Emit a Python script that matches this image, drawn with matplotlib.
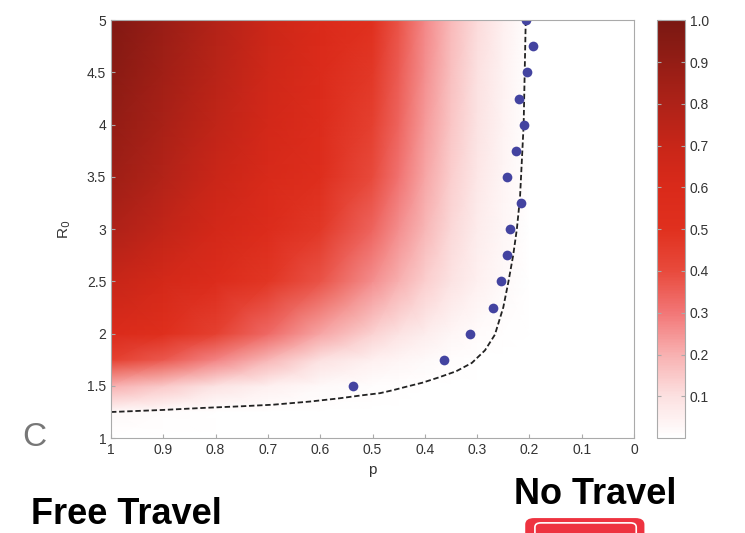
import matplotlib
matplotlib.use("Agg")
import matplotlib.pyplot as plt
import numpy as np
from matplotlib.colors import LinearSegmentedColormap
from matplotlib.patches import FancyBboxPatch

plt.rcParams['font.family'] = ['Liberation Sans', 'DejaVu Sans']

# grid of the shaded field
p_grid = [1.0, 0.9, 0.8, 0.7, 0.6, 0.5, 0.45, 0.4, 0.35, 0.3, 0.25, 0.2, 0.1, 0.0]
r_grid = [1.0, 1.25, 1.5, 1.75, 2.0, 2.5, 3.0, 3.5, 4.0, 4.5, 5.0]
field = [
    [0.00, 0.00, 0.00, 0.00, 0.00, 0.00, 0.00,  0.00, 0.00, 0.00,  0.00,  0, 0, 0],  # R0 = 1
    [0.02, 0.01, 0.00, 0.00, 0.00, 0.00, 0.00,  0.00, 0.00, 0.00,  0.00,  0, 0, 0],  # 1.25
    [0.20, 0.15, 0.09, 0.05, 0.02, 0.01, 0.005, 0.00, 0.00, 0.00,  0.00,  0, 0, 0],  # 1.5
    [0.44, 0.37, 0.28, 0.19, 0.10, 0.05, 0.035, 0.02, 0.01, 0.00,  0.00,  0, 0, 0],  # 1.75
    [0.58, 0.52, 0.44, 0.33, 0.22, 0.13, 0.09,  0.06, 0.03, 0.015, 0.005, 0, 0, 0],  # 2
    [0.70, 0.63, 0.56, 0.48, 0.38, 0.26, 0.20,  0.14, 0.09, 0.05,  0.02,  0, 0, 0],  # 2.5
    [0.80, 0.72, 0.64, 0.56, 0.47, 0.34, 0.26,  0.19, 0.12, 0.065, 0.03,  0, 0, 0],  # 3
    [0.86, 0.78, 0.69, 0.61, 0.53, 0.40, 0.31,  0.22, 0.14, 0.08,  0.035, 0, 0, 0],  # 3.5
    [0.90, 0.82, 0.73, 0.64, 0.56, 0.44, 0.34,  0.24, 0.16, 0.09,  0.04,  0, 0, 0],  # 4
    [0.94, 0.85, 0.76, 0.66, 0.58, 0.47, 0.36,  0.26, 0.17, 0.10,  0.045, 0, 0, 0],  # 4.5
    [0.97, 0.88, 0.78, 0.68, 0.60, 0.50, 0.38,  0.27, 0.18, 0.11,  0.05,  0, 0, 0],  # 5
]

# threshold curve (dashed)
curve_p = [1.0, 0.9, 0.82, 0.75, 0.69, 0.62, 0.565, 0.52, 0.486, 0.46, 0.437, 0.405, 0.374,
           0.34, 0.31, 0.285, 0.266, 0.25, 0.24, 0.231, 0.224, 0.218, 0.214, 0.211, 0.209, 0.207]
curve_r = [1.25, 1.27, 1.29, 1.305, 1.32, 1.35, 1.38, 1.41, 1.43, 1.46, 1.49, 1.53, 1.58,
           1.64, 1.72, 1.84, 1.99, 2.25, 2.5, 2.75, 3.0, 3.3, 3.7, 4.0, 4.5, 5.0]

# simulation points
dot_p = [0.207, 0.193, 0.205, 0.219, 0.210, 0.226, 0.243, 0.217, 0.237, 0.243, 0.255, 0.269, 0.313, 0.364, 0.537]
dot_r = [5.0, 4.75, 4.5, 4.25, 4.0, 3.75, 3.5, 3.25, 3.0, 2.75, 2.5, 2.25, 2.0, 1.75, 1.5]

cb_ticks = [0.1, 0.2, 0.3, 0.4, 0.5, 0.6, 0.7, 0.8, 0.9, 1.0]
cb_labels = ['0.1', '0.2', '0.3', '0.4', '0.5', '0.6', '0.7', '0.8', '0.9', '1.0']

cmap = LinearSegmentedColormap.from_list('wr', [
    (0.0, '#ffffff'), (0.1, '#fce0e0'), (0.2, '#f8b0b0'), (0.3, '#f27676'),
    (0.4, '#e84a3c'), (0.5, '#e0301e'), (0.6, '#da2a1a'), (0.7, '#c82618'),
    (0.8, '#ae2218'), (0.9, '#941d15'), (1.0, '#7a1812')])

fig = plt.figure(figsize=(7.45, 5.33), dpi=100)
ax = fig.add_axes([0.149, 0.178, 0.702, 0.784])
cax = fig.add_axes([0.882, 0.178, 0.037, 0.784])

P, R = np.meshgrid(p_grid, r_grid)
mesh = ax.pcolormesh(P, R, np.array(field), cmap=cmap, vmin=0, vmax=1, shading='gouraud')
ax.plot(curve_p, curve_r, ls=(0, (3, 1.5)), color='#222222', lw=1.3)
ax.plot(dot_p, dot_r, 'o', color='#4343a0', ms=7, mec='none')

ax.set_xlim(1, 0)
ax.set_ylim(1, 5)
ax.set_xticks([1, 0.9, 0.8, 0.7, 0.6, 0.5, 0.4, 0.3, 0.2, 0.1, 0])
ax.set_xticklabels(['1', '0.9', '0.8', '0.7', '0.6', '0.5', '0.4', '0.3', '0.2', '0.1', '0'])
ax.set_yticks([1, 1.5, 2, 2.5, 3, 3.5, 4, 4.5, 5])
ax.set_yticklabels(['1', '1.5', '2', '2.5', '3', '3.5', '4', '4.5', '5'])
ax.tick_params(direction='in', length=3, labelsize=10, colors='#aaaaaa', labelcolor='#333333')
for s in ax.spines.values():
    s.set_color('#aaaaaa')
ax.set_xlabel('p', fontsize=11, color='#333333', labelpad=4)
ax.set_ylabel('R$_0$', fontsize=11, color='#333333', labelpad=10)

cb = fig.colorbar(mesh, cax=cax, ticks=cb_ticks)
cb.ax.set_yticklabels(cb_labels)
cb.ax.yaxis.set_ticks_position('both')
cb.ax.tick_params(direction='in', length=3, labelsize=10, colors='#aaaaaa', labelcolor='#333333')
cb.outline.set_edgecolor('#aaaaaa')

fig.text(0.03, 0.18, 'C', fontsize=24, color='#777777', va='center')
fig.text(0.041, 1 - 524 / 533, 'Free Travel', fontsize=26, fontweight='bold', va='baseline')
fig.text(0.690, 1 - 504 / 533, 'No Travel', fontsize=26, fontweight='bold', va='baseline')

btn = FancyBboxPatch((0.705, -0.03), 0.16, 0.058, boxstyle='round,pad=0,rounding_size=0.012',
                     transform=fig.transFigure, facecolor='#ee3340', edgecolor='none')
fig.patches.append(btn)
inner = FancyBboxPatch((0.718, -0.03), 0.136, 0.049, boxstyle='round,pad=0,rounding_size=0.008',
                       transform=fig.transFigure, facecolor='none', edgecolor='white', lw=1.2)
fig.patches.append(inner)

fig.savefig('out.png', dpi=100)
